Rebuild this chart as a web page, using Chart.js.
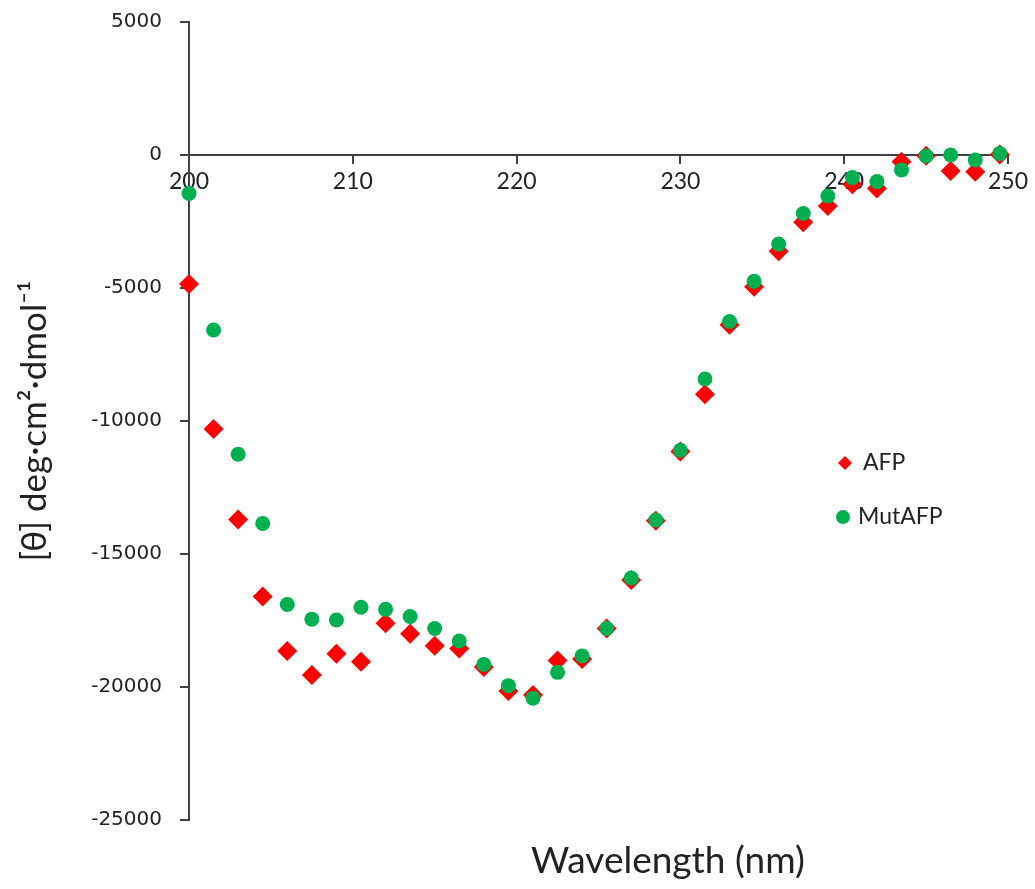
<!DOCTYPE html>
<html>
<head>
<meta charset="utf-8">
<script src="https://cdn.jsdelivr.net/npm/chart.js"></script>
<style>
  body { margin: 0; background: #fff; }
  #wrap { width: 1035px; height: 889px; }
</style>
</head>
<body>
<div id="wrap"><canvas id="cdChart" width="1035" height="889"></canvas></div>
<script>
// CD spectra, AFP vs MutAFP
const wavelength = [200, 201.5, 203, 204.5, 206, 207.5, 209, 210.5, 212, 213.5, 215, 216.5, 218, 219.5, 221, 222.5, 224,
    225.5, 227, 228.5, 230, 231.5, 233, 234.5, 236, 237.5, 239, 240.5, 242, 243.5, 245, 246.5, 248, 249.5];
const afp = [-4850, -10300, -13700, -16600, -18650, -19550, -18750, -19050, -17600, -18000, -18450, -18550, -19250,
    -20150, -20300, -19000, -18950, -17800, -15980, -13750, -11150, -8990, -6380, -4950, -3620, -2530, -1920, -1100,
    -1260, -250, -30, -600, -630, 20];
const mutAfp = [-1450, -6580, -11250, -13850, -16900, -17450, -17480, -17000, -17080, -17350, -17800, -18270, -19150,
    -19950, -20420, -19450, -18830, -17800, -15900, -13720, -11100, -8420, -6260, -4750, -3350, -2200, -1540, -850,
    -1000, -560, -40, 0, -190, 60];
const xTicks = [200, 210, 220, 230, 240, 250];
const yTicks = [-25000, -20000, -15000, -10000, -5000, 0, 5000];

const toPoints = (ys) => wavelength.map((x, i) => ({ x: x, y: ys[i] }));

const axisColor = '#404040';

const extras = {
    id: 'extras',
    afterDatasetsDraw(chart) {
        const ctx = chart.ctx;
        const area = chart.chartArea;
        ctx.save();
        // x axis title (axis sits at y=0, so title drawn here)
        ctx.fillStyle = '#222';
        ctx.font = '37px Lato';
        ctx.textAlign = 'center';
        ctx.textBaseline = 'middle';
        ctx.fillText('Wavelength (nm)', 668, 861);

        // legend
        const items = chart.data.datasets;
        const lx = area.left + 656;
        let ly = area.top + 441;
        ctx.font = '23px Lato';
        ctx.textAlign = 'left';
        items.forEach((ds) => {
            ctx.fillStyle = ds.backgroundColor;
            ctx.beginPath();
            if (ds.pointStyle === 'rectRot') {
                ctx.moveTo(lx - 7, ly);
                ctx.lineTo(lx, ly - 7);
                ctx.lineTo(lx + 7, ly);
                ctx.lineTo(lx, ly + 7);
                ctx.closePath();
            } else {
                ctx.arc(lx - 2, ly, 7, 0, Math.PI * 2);
            }
            ctx.fill();
            ctx.fillStyle = '#222';
            ctx.fillText(ds.label, ds.pointStyle === 'rectRot' ? lx + 18 : lx + 13, ly);
            ly += 54;
        });
        ctx.restore();
    }
};

const chart = new Chart(document.getElementById('cdChart').getContext('2d'), {
    type: 'scatter',
    data: {
        datasets: [{
            label: 'AFP',
            data: toPoints(afp),
            pointStyle: 'rectRot',
            pointRadius: 10,
            pointHoverRadius: 10,
            backgroundColor: '#ff0000',
            borderColor: '#ff0000',
            borderWidth: 0,
            clip: false,
            order: 2
        }, {
            label: 'MutAFP',
            data: toPoints(mutAfp),
            pointStyle: 'circle',
            pointRadius: 7.5,
            pointHoverRadius: 7.5,
            backgroundColor: '#00b050',
            borderColor: '#00b050',
            borderWidth: 0,
            clip: false,
            order: 1
        }]
    },
    plugins: [extras],
    options: {
        responsive: false,
        animation: false,
        devicePixelRatio: 1,
        layout: {
            padding: { left: 0, right: 27, top: 22, bottom: 69 }
        },
        plugins: {
            legend: { display: false },
            tooltip: { enabled: false }
        },
        scales: {
            x: {
                type: 'linear',
                position: { y: 0 },
                min: 200,
                max: 250,
                afterBuildTicks: (scale) => { scale.ticks = xTicks.map(v => ({ value: v })); },
                afterFit: (scale) => { scale.paddingLeft = 0; scale.paddingRight = 0; },
                grid: { display: true, drawOnChartArea: false, drawTicks: true, tickLength: 8, color: axisColor, lineWidth: 2 },
                border: { display: true, color: axisColor, width: 2 },
                ticks: {
                    color: '#222',
                    font: { family: 'Lato', size: 23 },
                    padding: 5,
                    maxRotation: 0,
                    callback: (v) => String(v)
                }
            },
            y: {
                type: 'linear',
                position: 'left',
                min: -25000,
                max: 5000,
                afterBuildTicks: (scale) => { scale.ticks = yTicks.map(v => ({ value: v })); },
                afterFit: (scale) => { scale.width = 189; scale.paddingTop = 0; scale.paddingBottom = 0; },
                grid: { display: true, drawOnChartArea: false, drawTicks: true, tickLength: 9, color: axisColor, lineWidth: 2 },
                border: { display: true, color: axisColor, width: 2 },
                ticks: {
                    color: '#222',
                    font: { family: 'DejaVu Sans', size: 20 },
                    padding: 18,
                    callback: (v) => String(v)
                },
                title: {
                    display: true,
                    text: '[θ] deg·cm²·dmol⁻¹',
                    color: '#222',
                    font: { family: 'Lato', size: 35 },
                    padding: { top: 14, bottom: 0 }
                }
            }
        }
    }
});
</script>
</body>
</html>
